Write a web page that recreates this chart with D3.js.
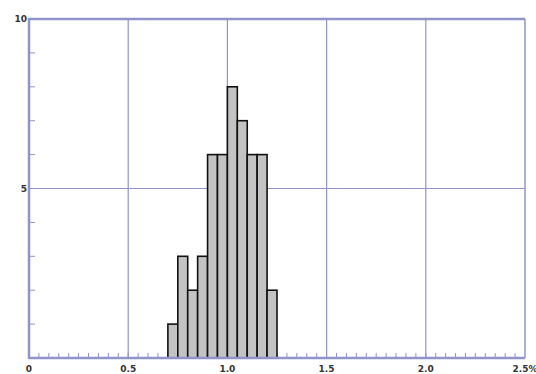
<!DOCTYPE html>
<html>
<head>
<meta charset="utf-8">
<script src="https://cdn.jsdelivr.net/npm/d3@7"></script>
<style>
  html, body { margin: 0; padding: 0; background: #fff; }
  svg { display: block; }
  text { font-family: "DejaVu Sans", sans-serif; font-weight: bold; fill: #333; }
</style>
</head>
<body>
<svg id="chart" width="536" height="374"></svg>
<script>
// Histogram bins (lower edge, %) and counts
const binStarts = [0.70, 0.75, 0.80, 0.85, 0.90, 0.95, 1.00, 1.05, 1.10, 1.15, 1.20];
const counts    = [1, 3, 2, 3, 6, 6, 8, 7, 6, 6, 2];
const binWidth = 0.05;

const xTickValues = [0, 0.5, 1.0, 1.5, 2.0, 2.5];
const xTickLabels = ["0", "0.5", "1.0", "1.5", "2.0", "2.5%"];
const yTickValues = [5, 10];
const yTickLabels = ["5", "10"];

const frameColor = "#9094c8";
const svg = d3.select("#chart");
const L = 29, R = 525, T = 19, B = 358;

const x = d3.scaleLinear().domain([0, 2.5]).range([L, R]);
const y = d3.scaleLinear().domain([0, 10]).range([B, T]);

// Grid lines at major ticks
svg.append("g").selectAll("line.vg")
  .data(xTickValues.slice(1, -1))
  .join("line")
  .attr("x1", d => x(d)).attr("x2", d => x(d))
  .attr("y1", T).attr("y2", B)
  .attr("stroke", frameColor).attr("stroke-width", 1.2);

svg.append("g").selectAll("line.hg")
  .data([5])
  .join("line")
  .attr("x1", L).attr("x2", R)
  .attr("y1", d => y(d)).attr("y2", d => y(d))
  .attr("stroke", frameColor).attr("stroke-width", 1.2);

// Minor ticks: every 0.05 on x, every unit on y
const xMinor = d3.range(1, 50).map(i => i * 0.05);
svg.append("g").selectAll("line")
  .data(xMinor)
  .join("line")
  .attr("x1", d => x(d)).attr("x2", d => x(d))
  .attr("y1", B).attr("y2", B - 5)
  .attr("stroke", frameColor).attr("stroke-width", 1);

const yMinor = d3.range(1, 10);
svg.append("g").selectAll("line")
  .data(yMinor)
  .join("line")
  .attr("x1", L).attr("x2", L + 6)
  .attr("y1", d => y(d)).attr("y2", d => y(d))
  .attr("stroke", frameColor).attr("stroke-width", 1);

// Histogram bars
svg.append("g").selectAll("rect")
  .data(binStarts.map((s, i) => ({ s, c: counts[i] })))
  .join("rect")
  .attr("x", d => x(d.s))
  .attr("y", d => y(d.c))
  .attr("width", d => x(d.s + binWidth) - x(d.s))
  .attr("height", d => y(0) - y(d.c))
  .attr("fill", "#c3c3c3")
  .attr("stroke", "#111")
  .attr("stroke-width", 1.6);

// Frame
svg.append("line").attr("x1", L).attr("x2", R).attr("y1", T).attr("y2", T)
  .attr("stroke", frameColor).attr("stroke-width", 2.5);
svg.append("line").attr("x1", R).attr("x2", R).attr("y1", T).attr("y2", B)
  .attr("stroke", frameColor).attr("stroke-width", 1.5);
svg.append("line").attr("x1", L).attr("x2", L).attr("y1", T - 1).attr("y2", B + 1)
  .attr("stroke", frameColor).attr("stroke-width", 2.5);
svg.append("line").attr("x1", L).attr("x2", R).attr("y1", B).attr("y2", B)
  .attr("stroke", frameColor).attr("stroke-width", 2.5);

// Axis labels
svg.append("g").selectAll("text")
  .data(xTickValues)
  .join("text")
  .attr("x", d => x(d))
  .attr("y", 372)
  .attr("text-anchor", "middle")
  .attr("font-size", 9)
  .text((d, i) => xTickLabels[i]);

svg.append("g").selectAll("text")
  .data(yTickValues)
  .join("text")
  .attr("x", L - 2)
  .attr("y", d => y(d) + 3)
  .attr("text-anchor", "end")
  .attr("font-size", 9)
  .text((d, i) => yTickLabels[i]);
</script>
</body>
</html>
